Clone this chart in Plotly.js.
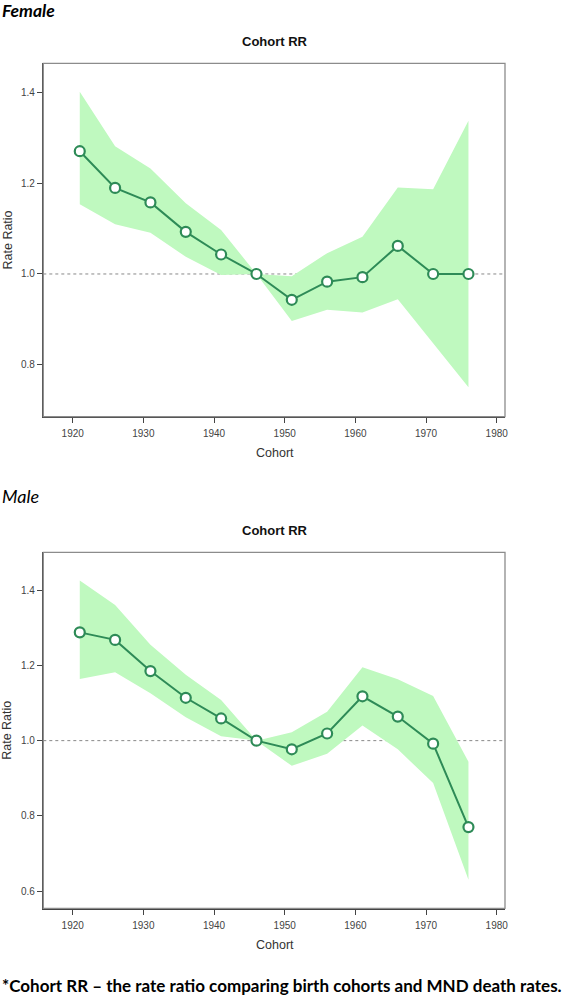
<!DOCTYPE html>
<html>
<head>
<meta charset="utf-8">
<script src="https://cdn.plot.ly/plotly-3.0.1.min.js"></script>
<style>
  html, body { margin: 0; padding: 0; background: #fff; }
  #chart { width: 569px; height: 997px; }
</style>
</head>
<body>
<div id="chart"></div>
<script>
// ---- data ----
const cohorts = [1921, 1926, 1931, 1936, 1941, 1946, 1951, 1956, 1961, 1966, 1971, 1976];

const femaleRR    = [1.271, 1.190, 1.158, 1.093, 1.043, 1.000, 0.943, 0.983, 0.993, 1.062, 1.000, 1.000];
const femaleUpper = [1.402, 1.282, 1.233, 1.156, 1.097, 1.000, 0.995, 1.046, 1.082, 1.191, 1.187, 1.338];
const femaleLower = [1.154, 1.110, 1.091, 1.038, 0.998, 1.000, 0.896, 0.921, 0.915, 0.944, 0.847, 0.750];

const maleRR    = [1.288, 1.268, 1.185, 1.114, 1.059, 1.000, 0.977, 1.019, 1.118, 1.064, 0.992, 0.770];
const maleUpper = [1.426, 1.361, 1.255, 1.175, 1.108, 1.000, 1.022, 1.077, 1.195, 1.163, 1.119, 0.944];
const maleLower = [1.164, 1.182, 1.126, 1.062, 1.012, 1.000, 0.933, 0.965, 1.040, 0.977, 0.887, 0.630];

const xTicks = [1920, 1930, 1940, 1950, 1960, 1970, 1980];
const femaleYTicks = [0.8, 1.0, 1.2, 1.4];
const maleYTicks = [0.6, 0.8, 1.0, 1.2, 1.4];
const refValue = 1.0;

const panelTitle = "Cohort RR";
const xTitle = "Cohort";
const yTitle = "Rate Ratio";
const femaleLabel = "Female";
const maleLabel = "Male";
const caption = "*Cohort RR \u2013 the rate ratio comparing birth cohorts and MND death rates.";

// ---- styling ----
const W = 569, H = 997;
const py = px => 1 - px / H;
const px2x = px => px / W;
const bandColor = "#bff9bf";
const lineColor = "#2e8b57";
const axisFont = { family: "Liberation Sans, Arial, sans-serif", size: 10, color: "#444" };

function bandTrace(upper, lower, xa, ya) {
  return {
    x: cohorts.concat(cohorts.slice().reverse()),
    y: upper.concat(lower.slice().reverse()),
    xaxis: xa, yaxis: ya,
    type: "scatter", mode: "lines", fill: "toself",
    fillcolor: bandColor, line: { width: 0, color: bandColor },
    hoverinfo: "skip", showlegend: false
  };
}
function lineTrace(vals, xa, ya) {
  return {
    x: cohorts, y: vals, xaxis: xa, yaxis: ya,
    type: "scatter", mode: "lines+markers",
    line: { color: lineColor, width: 2 },
    marker: { size: 10, color: "#ffffff", line: { color: lineColor, width: 2.2 } },
    showlegend: false
  };
}

const traces = [
  bandTrace(femaleUpper, femaleLower, "x", "y"),
  lineTrace(femaleRR, "x", "y"),
  bandTrace(maleUpper, maleLower, "x2", "y2"),
  lineTrace(maleRR, "x2", "y2")
];

const xDom = [px2x(43.3), px2x(505)];
const fDom = [py(416.7), py(63.3)];
const mDom = [py(908.3), py(552.3)];

function xAxis(anchor) {
  return {
    domain: xDom, anchor: anchor, range: [1915.84, 1981.17],
    tickmode: "array", tickvals: xTicks, ticktext: xTicks.map(String),
    showline: true, linecolor: "#444", linewidth: 1.5,
    ticks: "outside", ticklen: 5, tickcolor: "#444", tickwidth: 1,
    ticklabelstandoff: 2,
    tickfont: axisFont, showgrid: false, zeroline: false, fixedrange: true
  };
}
function yAxis(anchor, dom, range, ticks) {
  return {
    domain: dom, anchor: anchor, range: range,
    tickmode: "array", tickvals: ticks, ticktext: ticks.map(v => v.toFixed(1)),
    showline: true, linecolor: "#444", linewidth: 1.5,
    ticks: "outside", ticklen: 5, tickcolor: "#444", tickwidth: 1,
    tickfont: axisFont, showgrid: false, zeroline: false, fixedrange: true
  };
}

const layout = {
  width: W, height: H,
  margin: { l: 0, r: 0, t: 0, b: 0 },
  paper_bgcolor: "#ffffff", plot_bgcolor: "#ffffff",
  showlegend: false,
  xaxis: xAxis("y"),
  yaxis: yAxis("x", fDom, [0.685, 1.465], femaleYTicks),
  xaxis2: xAxis("y2"),
  yaxis2: yAxis("x2", mDom, [0.554, 1.501], maleYTicks),
  shapes: [
    { type: "rect", xref: "x domain", yref: "y domain", x0: 0, x1: 1, y0: 0, y1: 1,
      line: { color: "#8c8c8c", width: 1.3 }, layer: "above" },
    { type: "rect", xref: "x2 domain", yref: "y2 domain", x0: 0, x1: 1, y0: 0, y1: 1,
      line: { color: "#8c8c8c", width: 1.3 }, layer: "above" },
    { type: "line", xref: "x domain", yref: "y", x0: 0, x1: 1, y0: refValue, y1: refValue,
      line: { color: "#888", width: 1, dash: "dot" }, layer: "below" },
    { type: "line", xref: "x2 domain", yref: "y2", x0: 0, x1: 1, y0: refValue, y1: refValue,
      line: { color: "#888", width: 1, dash: "dot" }, layer: "below" }
  ],
  annotations: [
    { text: femaleLabel, xref: "paper", yref: "paper", x: 0, y: py(11), xanchor: "left", yanchor: "middle",
      showarrow: false, font: { family: "Lato, sans-serif", size: 17.5, color: "#000", style: "italic", weight: 700 } },
    { text: maleLabel, xref: "paper", yref: "paper", x: 0, y: py(496.5), xanchor: "left", yanchor: "middle",
      showarrow: false, font: { family: "Lato, sans-serif", size: 18, color: "#000", style: "italic" } },
    { text: "<b>" + panelTitle + "</b>", xref: "paper", yref: "paper", x: px2x(274.5), y: py(41.7),
      xanchor: "center", yanchor: "middle", showarrow: false,
      font: { family: "Liberation Sans, Arial, sans-serif", size: 13, color: "#111" } },
    { text: "<b>" + panelTitle + "</b>", xref: "paper", yref: "paper", x: px2x(274.5), y: py(530.5),
      xanchor: "center", yanchor: "middle", showarrow: false,
      font: { family: "Liberation Sans, Arial, sans-serif", size: 13, color: "#111" } },
    { text: xTitle, xref: "paper", yref: "paper", x: px2x(274.5), y: py(452.7),
      xanchor: "center", yanchor: "middle", showarrow: false,
      font: { family: "Liberation Sans, Arial, sans-serif", size: 12.5, color: "#333" } },
    { text: xTitle, xref: "paper", yref: "paper", x: px2x(274.5), y: py(944.5),
      xanchor: "center", yanchor: "middle", showarrow: false,
      font: { family: "Liberation Sans, Arial, sans-serif", size: 12.5, color: "#333" } },
    { text: yTitle, xref: "paper", yref: "paper", x: px2x(7.5), y: py(240), textangle: -90,
      xanchor: "center", yanchor: "middle", showarrow: false,
      font: { family: "Liberation Sans, Arial, sans-serif", size: 12.5, color: "#333" } },
    { text: yTitle, xref: "paper", yref: "paper", x: px2x(7.5), y: py(730.3), textangle: -90,
      xanchor: "center", yanchor: "middle", showarrow: false,
      font: { family: "Liberation Sans, Arial, sans-serif", size: 12.5, color: "#333" } },
    { text: "<b>" + caption + "</b>", xref: "paper", yref: "paper", x: 0, y: py(985),
      xanchor: "left", yanchor: "middle", showarrow: false,
      font: { family: "Lato, sans-serif", size: 17, color: "#000" } }
  ]
};

Plotly.newPlot("chart", traces, layout, { staticPlot: true, displayModeBar: false });
</script>
</body>
</html>
